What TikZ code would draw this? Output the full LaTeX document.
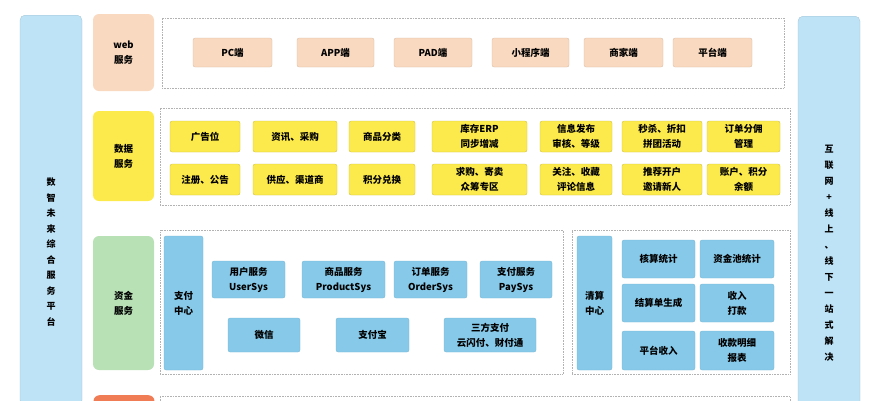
\documentclass[tikz,border=0pt]{standalone}
\usepackage{fontspec}
\setmainfont{Noto Sans CJK SC}
\usetikzlibrary{positioning}
\definecolor{cPeach}{HTML}{F9D9BF}
\definecolor{cYellow}{HTML}{FCEA4C}
\definecolor{cGreen}{HTML}{B8E1B6}
\definecolor{cBlue}{HTML}{86C9E8}
\definecolor{cSide}{HTML}{BEE3F6}
\definecolor{cOrange}{HTML}{F07C55}
\tikzstyle{lSide} = [rectangle, rounded corners=5pt, fill=cSide, draw=cSide!85!black, line width=0.3pt, minimum width=62pt, align=center]
\tikzstyle{lLayer} = [rectangle, rounded corners=6pt, minimum width=61pt, align=center, font=\fontsize{9.5}{15}\selectfont\bfseries]
\tikzstyle{lGroup} = [rectangle, draw=gray!60, densely dotted, line width=0.6pt]
\tikzstyle{lItem} = [rectangle, rounded corners=2pt, align=center, font=\fontsize{9.5}{15}\selectfont\bfseries, inner sep=1pt]
\tikzstyle{lWeb} = [lItem, fill=cPeach, draw=cPeach!85!black, line width=0.3pt, minimum height=29pt]
\tikzstyle{lData} = [lItem, fill=cYellow, draw=cYellow!80!black, line width=0.3pt, minimum height=31pt]
\tikzstyle{lFund} = [lItem, fill=cBlue, draw=cBlue!90!black, line width=0.3pt]

\begin{document}
\begin{tikzpicture}[x=1pt, y=-1pt]
    \useasboundingbox (0,0) rectangle (878,400);
    % side bars
    \node (platform) [lSide, minimum height=390pt, anchor=north] at (51,15) {};
    \node (platformtext) at (51,252) [font=\fontsize{9}{15.5}\selectfont\bfseries, align=center] {数\\智\\未\\来\\综\\合\\服\\务\\平\\台};
    \node (solution) [lSide, minimum height=390pt, anchor=north] at (829,16) {};
    \node (solutiontext) at (829,253) [font=\fontsize{9}{16}\selectfont\bfseries, align=center] {互\\联\\网\\+\\线\\上\\、\\线\\下\\一\\站\\式\\解\\决};

    % web layer
    \node (weblayer) [lLayer, fill=cPeach, minimum height=77pt] at (123.5,52.5) {web\\服务};
    \node (webgroup) [lGroup, minimum width=622pt, minimum height=70pt] at (473,53) {};
    \node (pc) [lWeb, minimum width=79pt] at (232.5,52.5) {PC端};
    \node (app) [lWeb, minimum width=77pt] at (335.5,52.5) {APP端};
    \node (pad) [lWeb, minimum width=78pt] at (433,52.5) {PAD端};
    \node (miniapp) [lWeb, minimum width=77pt] at (530.5,52.5) {小程序端};
    \node (merchant) [lWeb, minimum width=79pt] at (623.5,52.5) {商家端};
    \node (platformend) [lWeb, minimum width=79pt] at (712.5,52.5) {平台端};

    % data layer
    \node (datalayer) [lLayer, fill=cYellow, minimum height=90pt] at (123.5,156) {数据\\服务};
    \node (datagroup) [lGroup, minimum width=630pt, minimum height=97pt] at (475,156.5) {};
    \node (ads) [lData, minimum width=70pt] at (205,136.5) {广告位};
    \node (news) [lData, minimum width=84pt] at (295,136.5) {资讯、采购};
    \node (category) [lData, minimum width=66pt] at (382,136.5) {商品分类};
    \node (erp) [lData, minimum width=95pt] at (479.5,136.5) {库存ERP\\同步增减};
    \node (publish) [lData, minimum width=72pt] at (576,136.5) {信息发布\\审核、等级};
    \node (flash) [lData, minimum width=80pt] at (662,136.5) {秒杀、折扣\\拼团活动};
    \node (commission) [lData, minimum width=73pt] at (743.5,136.5) {订单分佣\\管理};
    \node (register) [lData, minimum width=70pt] at (205,179.5) {注册、公告};
    \node (supply) [lData, minimum width=84pt] at (295,179.5) {供应、渠道商};
    \node (points) [lData, minimum width=66pt] at (382,179.5) {积分兑换};
    \node (crowd) [lData, minimum width=95pt] at (479.5,179.5) {求购、寄卖\\众筹专区};
    \node (follow) [lData, minimum width=72pt] at (576,179.5) {关注、收藏\\评论信息};
    \node (invite) [lData, minimum width=80pt] at (662,179.5) {推荐开户\\邀请新人};
    \node (balance) [lData, minimum width=73pt] at (743.5,179.5) {账户、积分\\余额};

    % fund layer
    \node (fundlayer) [lLayer, fill=cGreen, minimum height=134pt] at (123.5,303) {资金\\服务};
    \node (paygroup) [lGroup, minimum width=403pt, minimum height=144pt] at (361.5,302) {};
    \node (paycenter) [lFund, minimum width=39pt, minimum height=134pt] at (183.5,303) {支付\\中心};
    \node (usersys) [lFund, minimum width=73pt, minimum height=37pt] at (248.5,279.5) {用户服务\\UserSys};
    \node (productsys) [lFund, minimum width=83pt, minimum height=37pt] at (343.5,279.5) {商品服务\\ProductSys};
    \node (ordersys) [lFund, minimum width=73pt, minimum height=37pt] at (430.5,279.5) {订单服务\\OrderSys};
    \node (paysys) [lFund, minimum width=72pt, minimum height=37pt] at (516,279.5) {支付服务\\PaySys};
    \node (wechat) [lFund, minimum width=72pt, minimum height=34pt] at (264,335) {微信};
    \node (alipay) [lFund, minimum width=73pt, minimum height=34pt] at (372.5,335) {支付宝};
    \node (thirdpay) [lFund, minimum width=92pt, minimum height=34pt] at (490,335) {三方支付\\云闪付、财付通};

    \node (cleargroup) [lGroup, minimum width=218pt, minimum height=144pt] at (681,302) {};
    \node (clearcenter) [lFund, minimum width=35pt, minimum height=134pt] at (594.5,303) {清算\\中心};
    \node (accounting) [lFund, minimum width=73pt, minimum height=38pt] at (658.5,259) {核算统计};
    \node (pool) [lFund, minimum width=74pt, minimum height=38pt] at (737,259) {资金池统计};
    \node (settle) [lFund, minimum width=73pt, minimum height=38pt] at (658.5,303) {结算单生成};
    \node (payout) [lFund, minimum width=74pt, minimum height=38pt] at (737,303) {收入\\打款};
    \node (income) [lFund, minimum width=73pt, minimum height=39pt] at (658.5,350.5) {平台收入};
    \node (report) [lFund, minimum width=74pt, minimum height=39pt] at (737,350.5) {收款明细\\报表};

    % next layer, cut off
    \node (nextlayer) [lLayer, fill=cOrange, minimum height=40pt, anchor=north] at (124,395) {};
    \node (nextgroup) [lGroup, minimum width=630pt, minimum height=40pt, anchor=north] at (475,396) {};
\end{tikzpicture}
\end{document}
